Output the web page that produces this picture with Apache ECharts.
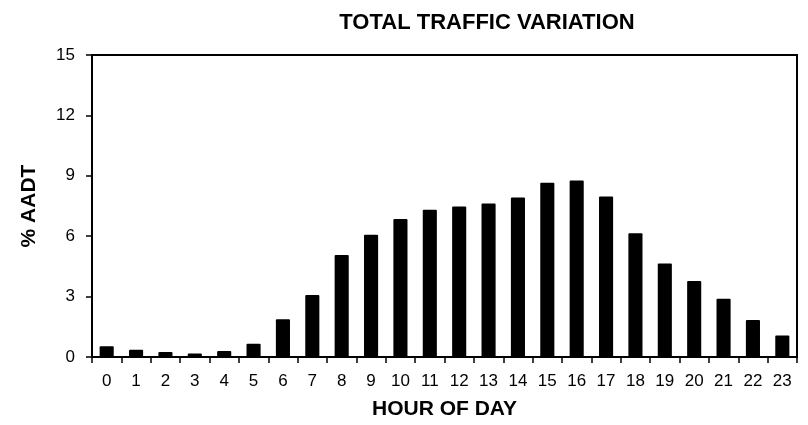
<!DOCTYPE html>
<html><head><meta charset="utf-8">
<script src="https://cdn.jsdelivr.net/npm/echarts@6/dist/echarts.min.js"></script>
<style>html,body{margin:0;padding:0;background:#fff}#c{width:808px;height:425px}</style>
</head><body><div id="c"></div>
<script>
const hours = ['0','1','2','3','4','5','6','7','8','9','10','11','12','13','14','15','16','17','18','19','20','21','22','23'];
const pctAADT = [0.53,0.36,0.25,0.18,0.30,0.66,1.87,3.08,5.07,6.07,6.85,7.31,7.48,7.62,7.92,8.66,8.77,7.97,6.15,4.64,3.77,2.89,1.84,1.07];
const yTicks = [0,3,6,9,12,15];
const titleText = 'TOTAL TRAFFIC VARIATION';
const xName = 'HOUR OF DAY';
const yName = '% AADT';

const chart = echarts.init(document.getElementById('c'), null, {renderer:'canvas'});
const ff = '"Liberation Sans", Arial, sans-serif';
chart.setOption({
  animation:false,
  backgroundColor:'#fff',
  title:{text:titleText,left:482,top:7,textAlign:'center',
    textStyle:{fontFamily:ff,fontWeight:'bold',fontSize:22,color:'#000'}},
  grid:{left:92,right:11,top:55,bottom:65,show:true,borderColor:'#000',borderWidth:2,backgroundColor:'transparent'},
  xAxis:{type:'category',data:hours,
    name:xName,nameLocation:'middle',nameGap:42,
    nameTextStyle:{fontFamily:ff,fontWeight:'bold',fontSize:21,color:'#000'},
    axisLine:{lineStyle:{color:'#000',width:2}},
    axisTick:{show:true,length:6,lineStyle:{color:'#000',width:1.5}},
    axisLabel:{fontFamily:ff,fontSize:17,color:'#000',margin:16,interval:0},
    splitLine:{show:false}},
  yAxis:{type:'value',min:yTicks[0],max:yTicks[yTicks.length-1],interval:3,
    name:yName,nameLocation:'middle',nameGap:52,nameRotate:90,
    nameTextStyle:{fontFamily:ff,fontWeight:'bold',fontSize:21,color:'#000'},
    axisLine:{show:true,lineStyle:{color:'#000',width:2}},
    axisTick:{show:true,length:6,lineStyle:{color:'#000',width:1.5}},
    axisLabel:{fontFamily:ff,fontSize:17,color:'#000',margin:17},
    splitLine:{show:false}},
  series:[{type:'bar',data:pctAADT,barWidth:'48%',
    itemStyle:{color:'#000',borderRadius:1}}]
});
</script></body></html>
